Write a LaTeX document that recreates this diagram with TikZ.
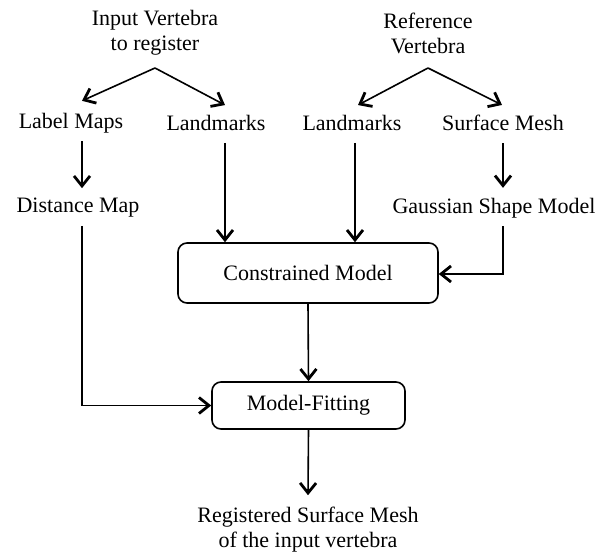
\documentclass[tikz,border=0pt]{standalone}
\usepackage{fontspec}
\setmainfont{Liberation Serif}
\usetikzlibrary{arrows.meta,calc}
\begin{document}
\begin{tikzpicture}[x=1pt,y=-1pt,
  txt/.style={inner sep=0pt,align=center,font=\fontsize{22}{25}\selectfont},
  box/.style={draw,line width=1.6pt,rounded corners=9pt,inner sep=0pt,font=\fontsize{22}{25}\selectfont},
  arr/.style={line width=1.6pt,-{Straight Barb[length=10pt,width=16pt,line width=2.8pt]}},
  ln/.style={line width=1.6pt}]
\useasboundingbox (0,0) rectangle (613,559);
% top sources
\node[txt] (inp) at (155,33) {Input Vertebra\\to register};
\node[txt] (ref) at (428,33) {Reference\\Vertebra};
\coordinate (inapex) at (155,68);
\coordinate (refapex) at (428,68);
% second row
\node[txt] (lblmaps) at (71,123) {Label Maps};
\node[txt] (lmin) at (216,123) {Landmarks};
\node[txt] (lmref) at (352,123) {Landmarks};
\node[txt] (surf) at (503,123) {Surface Mesh};
% third row
\node[txt] (dist) at (78,208) {Distance Map};
\node[txt] (gauss) at (494,208) {Gaussian Shape Model};
% boxes
\node[box,minimum width=260pt,minimum height=60pt] (cons) at (308,273) {Constrained Model};
\node[box,minimum width=193pt,minimum height=47pt] (fit) at (308.5,405.5) {Model-Fitting};
% output
\node[txt] (out) at (308,530) {Registered Surface Mesh\\of the input vertebra};
% connectors
\draw[arr] (inapex) -- ($(lblmaps.north)+(11,-12)$);
\draw[arr] (inapex) -- ($(lmin.north)+(9,-10)$);
\draw[arr] (refapex) -- ($(lmref.north)+(6,-10)$);
\draw[arr] (refapex) -- ($(surf.north)+(-1,-10)$);
\draw[arr] ($(lblmaps.south)+(11,8)$) -- ($(dist.north)+(4,-10)$);
\draw[arr] ($(surf.south)+(0,12)$) -- ($(gauss.north)+(9,-10)$);
\draw[arr] ($(lmin.south)+(9,12)$) -- (225,0 |- cons.north);
\draw[arr] ($(lmref.south)+(3,12)$) -- (355,0 |- cons.north);
\draw[arr] ($(gauss.south)+(9,8)$) |- (cons.east |- 0,274);
\draw[arr] (cons.south) -- (fit.north);
\draw[arr] ($(dist.south)+(4,8)$) |- (fit.west);
\draw[arr] (fit.south) -- ($(out.north)+(0,-12)$);
\end{tikzpicture}
\end{document}
